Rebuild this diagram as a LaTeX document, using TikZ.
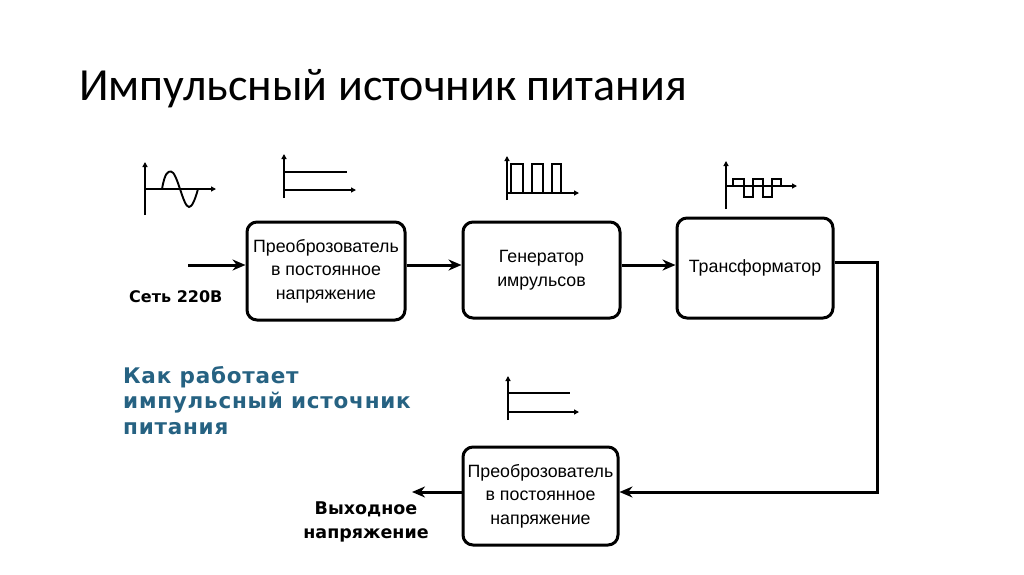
\documentclass[tikz,border=0pt]{standalone}
\usepackage{fontspec}
\setmainfont{Liberation Sans}
\newfontfamily\titlefont{Carlito}
\newfontfamily\boldlab{DejaVu Sans}
\newfontfamily\bluefont[LetterSpace=3.5]{DejaVu Sans}
\usetikzlibrary{arrows.meta}
\definecolor{bluetxt}{RGB}{38,98,130}
\tikzset{
  blk/.style={draw, line width=3pt, rounded corners=10pt, align=center, inner sep=0pt,
    font=\fontsize{17.8}{23.5}\selectfont},
  conn/.style={line width=3pt, -{Stealth[length=13pt,width=11pt]}},
  axis/.style={line width=1.9pt, -{Triangle[length=5pt,width=5pt]}},
  sig/.style={line width=1.9pt},
  boldlbl/.style={font=\boldlab\bfseries\fontsize{16}{24}\selectfont, align=center},
}
\begin{document}
\begin{tikzpicture}[x=1pt,y=-1pt]
\useasboundingbox[fill=white] (0,0) rectangle (1024,574);

% title
\node[anchor=base west, inner sep=0pt, font=\titlefont\fontsize{46}{52}\selectfont] (title) at (79,100) {Импульсный источник питания};

% blocks
\node[blk, minimum width=158pt, minimum height=98pt] (b1) at (326,271) {Преоброзователь\\в постоянное\\напряжение};
\node[blk, minimum width=157pt, minimum height=96pt] (b2) at (541.5,270) {Генератор\\имрульсов};
\node[blk, minimum width=156pt, minimum height=100pt] (b3) at (755,268) {Трансформатор};
\node[blk, minimum width=155pt, minimum height=98pt] (b4) at (540.5,496) {Преоброзователь\\в постоянное\\напряжение};

% connectors
\coordinate (in) at (188,265);
\coordinate (out) at (412,492);
\draw[conn] (in) -- (in -| b1.west);
\draw[conn] (b1.east |- in) -- (b2.west |- in);
\draw[conn] (b2.east |- in) -- (b3.west |- in);
\draw[conn] ([yshift=6pt]b3.east) -- ++(43,0) |- ([yshift=4pt]b4.east);
\draw[conn] ([yshift=4pt]b4.west) -- (out);

% labels
\node[boldlbl, anchor=base west, inner sep=0pt] (mains) at (129,302) {Сеть 220В};
\node[boldlbl, inner sep=0pt, font=\boldlab\bfseries\fontsize{17.5}{24}\selectfont] (outlbl) at (366,522) {Выходное\\напряжение};
\node[anchor=north west, inner sep=0pt, align=left, text=bluetxt,
  font=\bluefont\bfseries\fontsize{21.5}{25.5}\selectfont] (how) at (123,366) {Как работает\\импульсный источник\\питания};

% icon 1: sine
\draw[axis] (145,215) -- (145,162);
\draw[axis] (145,189) -- (216,189);
\draw[sig] (162,189) .. controls (165,172) and (168,171.5) .. (171,171.5)
  .. controls (174,171.5) and (177,180) .. (180,189)
  .. controls (183,198) and (186,207) .. (189,207)
  .. controls (192,207) and (195,200) .. (198,189);

% icon 2: dc
\draw[axis] (284,198) -- (284,154);
\draw[sig] (284,172) -- (347,172);
\draw[axis] (284,190) -- (356,190);

% icon 3: pulses
\draw[axis] (507,200) -- (507,156);
\draw[axis] (507,193) -- (579,193);
\draw[sig] (507,193) -- (511,193) -- (511,164) -- (523,164) -- (523,193) -- (532,193) -- (532,164) -- (543,164) -- (543,193) -- (552,193) -- (552,164) -- (561,164) -- (561,193);

% icon 4: ac square
\draw[axis] (726,209) -- (726,161);
\draw[axis] (726,186) -- (797,186);
\draw[sig] (733,186) -- (733,179) -- (744,179) -- (744,197) -- (753,197) -- (753,179) -- (763,179) -- (763,197) -- (772,197) -- (772,179) -- (781,179) -- (781,186);

% icon 5: dc bottom
\draw[axis] (508,420) -- (508,376);
\draw[sig] (508,393) -- (570,393);
\draw[axis] (508,412) -- (579,412);
\end{tikzpicture}
\end{document}
